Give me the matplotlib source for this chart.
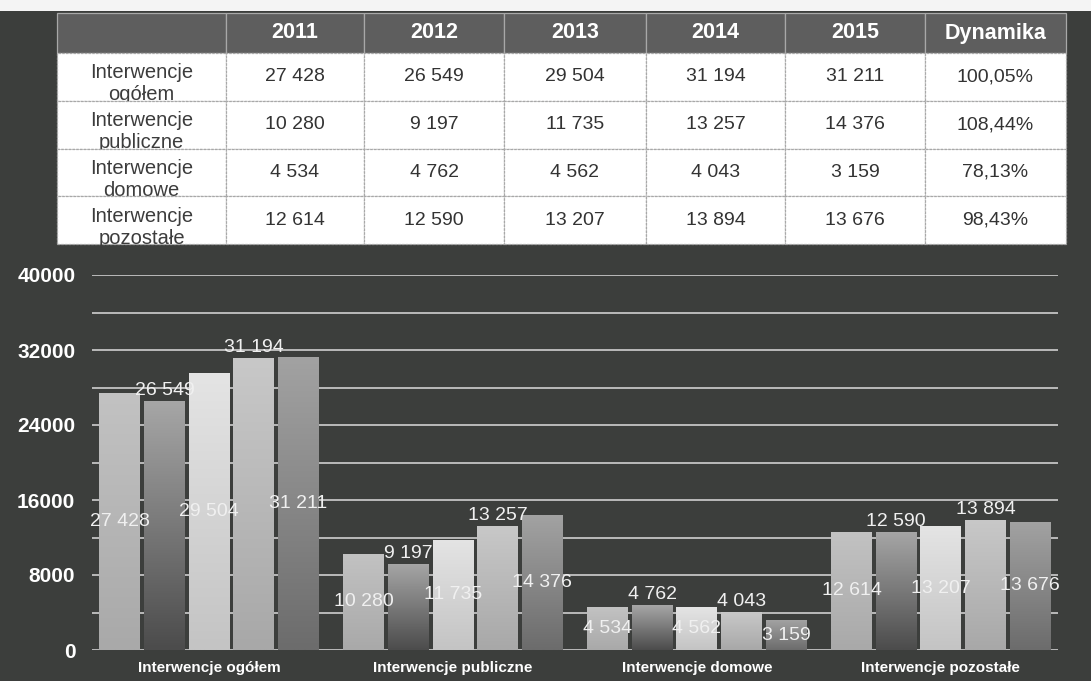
import numpy as np
import matplotlib.pyplot as plt
from matplotlib.patches import Rectangle
from matplotlib.colors import LinearSegmentedColormap
from matplotlib.transforms import Affine2D

plt.rcParams['font.family'] = ['Liberation Sans', 'DejaVu Sans']

# Data
years = ['2011', '2012', '2013', '2014', '2015']
categories = ['Interwencje ogółem', 'Interwencje publiczne',
              'Interwencje domowe', 'Interwencje pozostałe']
row_labels = ['Interwencje\nogółem', 'Interwencje\npubliczne',
              'Interwencje\ndomowe', 'Interwencje\npozostałe']
v2011 = [27428, 10280, 4534, 12614]
v2012 = [26549, 9197, 4762, 12590]
v2013 = [29504, 11735, 4562, 13207]
v2014 = [31194, 13257, 4043, 13894]
v2015 = [31211, 14376, 3159, 13676]
dynamika = ['100,05%', '108,44%', '78,13%', '98,43%']
yticks = [0, 8000, 16000, 24000, 32000, 40000]

series = [v2011, v2012, v2013, v2014, v2015]

# bar gradients (top colour, bottom colour) per year
grad = [('#c2c2c2', '#a9a9a9'),
        ('#a6a6a6', '#4c4c4c'),
        ('#e4e4e4', '#c4c4c4'),
        ('#c8c8c8', '#a8a8a8'),
        ('#a2a2a2', '#6c6c6c')]
# label placement: inside (middle) or above bar top
inside = [True, False, True, False, True]

W, H = 1091, 681
bg = '#3c3e3c'
fig = plt.figure(figsize=(W / 100, H / 100), dpi=100, facecolor=bg)

# scanned white margin at the top
fig.patches.append(Rectangle((0, (H - 11) / H), 1, 11 / H, transform=fig.transFigure,
                             facecolor='#f4f4f4', edgecolor='none', zorder=0))

def fmt(v):
    return f"{v:,}".replace(",", " ")

# ---------- table ----------
ax_t = fig.add_axes([57 / W, (H - 244) / H, (1066 - 57) / W, 231 / H])
ax_t.axis('off')
cell_text = []
for i in range(len(categories)):
    cell_text.append([row_labels[i]] + [fmt(s[i]) for s in series] + [dynamika[i]])
col_labels = [''] + years + ['Dynamika']
col_w = [169, 138, 140, 142, 139, 140, 141]
tbl = ax_t.table(cellText=cell_text, colLabels=col_labels,
                 colWidths=[w / sum(col_w) for w in col_w],
                 cellLoc='center', bbox=[0, 0, 1, 1])
tbl.auto_set_font_size(False)
for (r, c), cell in tbl.get_celld().items():
    cell.set_edgecolor('#a8a8a8')
    cell.set_linewidth(0.9)
    if r == 0:
        cell.set_height(40)
        cell.set_facecolor('#5e5e5e')
        cell.get_text().set_color('white')
        cell.get_text().set_fontweight('bold')
        cell.get_text().set_fontsize(15.5)
    else:
        cell.set_height(47.75)
        cell.set_facecolor('white')
        cell.set_linestyle((0, (2, 1)))
        cell.get_text().set_color('#333333')
        cell.get_text().set_fontsize(14)
        if c == 0:
            cell.get_text().set_fontsize(14.5)
            cell.get_text().set_color('#3c3c3c')
            cell.get_text().set_linespacing(1.2)
            cell.get_text().set_transform(Affine2D().translate(0, -7))

# ---------- bar chart ----------
ax = fig.add_axes([92 / W, (H - 650) / H, (1058 - 92) / W, 375 / H])
ax.set_facecolor(bg)
for s in ax.spines.values():
    s.set_visible(False)

x = np.arange(len(categories))
n = len(years)
pitch = 44.7 / 244
bw = 41 / 244

for j, vals in enumerate(series):
    pos = x + (j - (n - 1) / 2) * pitch
    bars = ax.bar(pos, vals, width=bw, color=grad[j][1], zorder=3, linewidth=0)
    cmap = LinearSegmentedColormap.from_list(f'g{j}', [grad[j][1], grad[j][0]])
    for b, v in zip(bars, vals):
        x0, y0 = b.get_x(), b.get_y()
        im = ax.imshow(np.linspace(0, 1, 100).reshape(-1, 1), cmap=cmap, origin='lower',
                       extent=[x0, x0 + b.get_width(), y0, y0 + b.get_height()],
                       aspect='auto', zorder=3.5)
        im.set_clip_path(b)
        cx = x0 + b.get_width() / 2
        if inside[j]:
            ax.text(cx, v / 2, fmt(v), ha='center', va='center', color='#f0f0f0',
                    fontsize=14, zorder=5)
        else:
            ax.text(cx, v + 200, fmt(v), ha='center', va='bottom', color='#f0f0f0',
                    fontsize=14, zorder=5)

ax.set_xlim(-0.48, 3.48)
ax.set_ylim(0, 40000)
ax.set_yticks(yticks)
ax.set_yticks(np.arange(4000, 40000, 8000), minor=True)
ax.grid(axis='y', which='both', color='#cfcfcf', linewidth=1.2, zorder=1)
ax.tick_params(axis='y', which='both', length=0, pad=12, labelsize=15,
               labelcolor='white')
for t in ax.get_yticklabels():
    t.set_fontweight('bold')
ax.set_xticks(x)
ax.set_xticklabels(categories, fontweight='bold', fontsize=11, color='white')
ax.tick_params(axis='x', length=0, pad=8)

plt.savefig('out.png', dpi=100, facecolor=bg)
